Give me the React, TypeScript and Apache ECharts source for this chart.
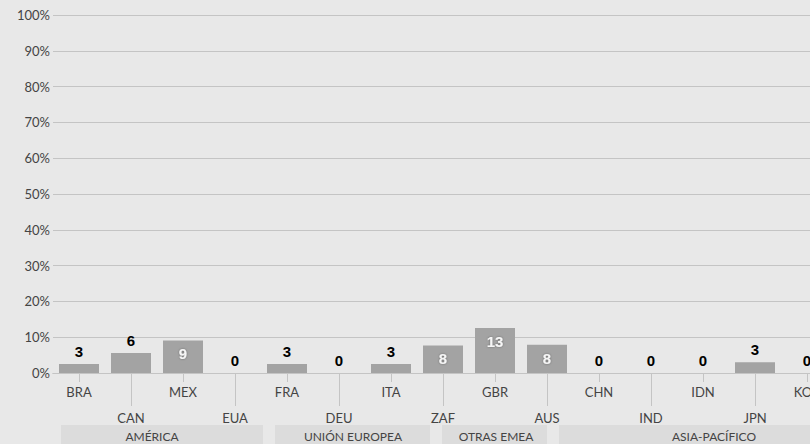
import React, { useEffect, useRef } from "react";
import * as echarts from "echarts";

const categories = ["BRA", "CAN", "MEX", "EUA", "FRA", "DEU", "ITA", "ZAF", "GBR", "AUS", "CHN", "IND", "IDN", "JPN", "KOR"];
const values = [2.5, 5.6, 9.1, 0, 2.5, 0, 2.5, 7.7, 12.6, 7.9, 0, 0, 0, 3.0, 0];
const yTicks = [0, 10, 20, 30, 40, 50, 60, 70, 80, 90, 100];
const groups = [
  { name: "AMÉRICA", first: "BRA", last: "EUA" },
  { name: "UNIÓN EUROPEA", first: "FRA", last: "ITA" },
  { name: "OTRAS EMEA", first: "ZAF", last: "AUS" },
  { name: "ASIA-PACÍFICO", first: "CHN", last: "KOR" },
];
// band layout offsets (px) relative to category centres
const groupLayout = [
  { l: -18, r: 28, t: 73 },
  { l: -12, r: 39, t: 66 },
  { l: -1, r: 0, t: 53 },
  { l: -40, r: 60, t: 115 },
];

const FONT = "Lato";
const CHART_W = 860;

export default function App() {
  const ref = useRef<HTMLDivElement>(null);
  useEffect(() => {
    const chart = echarts.init(ref.current!, null, { renderer: "svg" });
    const xAxisBase = {
      type: "category",
      data: categories,
      position: "bottom",
      axisLine: { show: true, lineStyle: { color: "#c4c4c4", width: 1 } },
      splitLine: { show: false },
    };
    chart.setOption({
      animation: false,
      backgroundColor: "#e8e8e8",
      grid: { left: 53, top: 15, height: 358, width: 52 * categories.length },
      xAxis: [
        {
          ...xAxisBase,
          axisTick: { show: true, alignWithLabel: true, length: 9, interval: (i: number) => i % 2 === 0, lineStyle: { color: "#c4c4c4" } },
          axisLabel: { interval: (i: number) => i % 2 === 0, margin: 12, color: "#444", fontFamily: FONT, fontSize: 13 },
        },
        {
          ...xAxisBase,
          axisTick: { show: true, alignWithLabel: true, length: 33, interval: (i: number) => i % 2 === 1, lineStyle: { color: "#c4c4c4" } },
          axisLabel: { interval: (i: number) => i % 2 === 1, margin: 38, color: "#444", fontFamily: FONT, fontSize: 13 },
        },
      ],
      yAxis: {
        type: "value",
        min: yTicks[0],
        max: yTicks[yTicks.length - 1],
        interval: 10,
        axisLine: { show: false },
        axisTick: { show: false },
        axisLabel: { formatter: "{value}%", color: "#444", fontFamily: FONT, fontSize: 13, margin: 3 },
        splitLine: { lineStyle: { color: "#c4c4c4", width: 1 } },
      },
      series: [
        {
          type: "bar",
          xAxisIndex: 0,
          barWidth: 40,
          itemStyle: { color: "#a3a3a3" },
          data: values.map((v) => ({
            value: v,
            label:
              v >= 7
                ? { show: true, position: "insideTop", distance: 6, color: "#f6f6f6", textShadowColor: "rgba(0,0,0,0.35)", textShadowBlur: 2 }
                : { show: true, position: "top", distance: 5, color: "#000" },
          })),
          label: {
            show: true,
            formatter: (p: any) => String(Math.round(p.value)),
            fontFamily: "Liberation Sans",
            fontWeight: "bold",
            fontSize: 15,
          },
        },
      ],
    });
    const px = (c: string) => chart.convertToPixel({ xAxisIndex: 0 }, c) as number;
    const elements: any[] = [];
    groups.forEach((g, i) => {
      const lay = groupLayout[i];
      const a = px(g.first) + lay.l;
      const b = px(g.last) + lay.r;
      elements.push({
        type: "rect",
        shape: { x: a, y: 425, width: b - a, height: 25 },
        style: { fill: "#dcdcdc" },
        silent: true,
      });
      elements.push({
        type: "text",
        x: px(g.first) + lay.t,
        y: 436,
        style: {
          text: g.name,
          fill: "#444",
          font: `12px ${FONT}`,
          textAlign: "center",
          textVerticalAlign: "middle",
        },
        silent: true,
      });
    });
    chart.setOption({ graphic: elements });
    return () => chart.dispose();
  }, []);
  return (
    <div style={{ position: "fixed", left: 0, top: 0, width: 810, height: 444, overflow: "hidden" }}>
      <div ref={ref} style={{ width: CHART_W, height: 444 }} />
    </div>
  );
}
